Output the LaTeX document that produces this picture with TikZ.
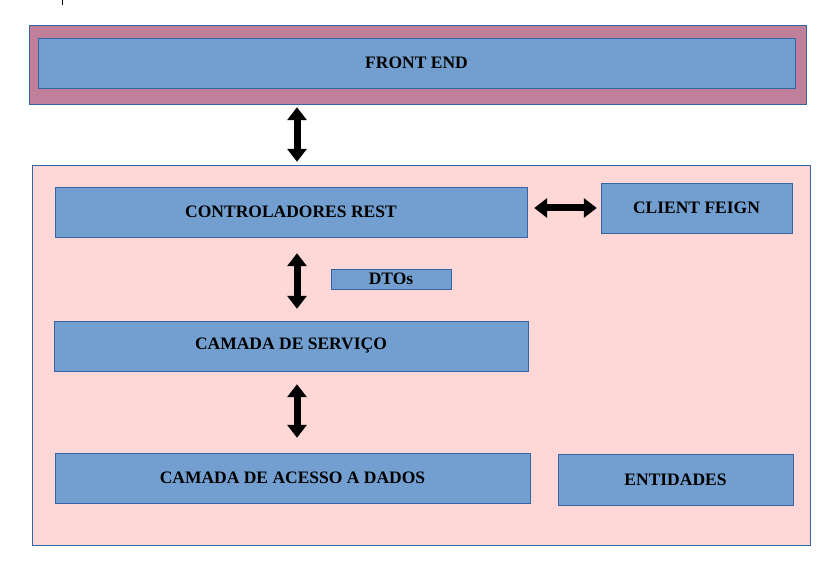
\documentclass[tikz,border=0pt]{standalone}
\usepackage{fontspec}
\setmainfont{Liberation Serif}
\usetikzlibrary{arrows.meta}

\definecolor{boxblue}{HTML}{729FCF}
\definecolor{edgeblue}{HTML}{3465A4}
\definecolor{layerpink}{HTML}{FFD7D7}
\definecolor{frontmauve}{HTML}{C0809C}

\tikzset{
  layer/.style={draw=edgeblue, fill=boxblue, inner sep=0pt,
    font=\fontsize{17.5}{20}\selectfont\bfseries},
  twoway/.style={line width=7pt,
    {Triangle[width=19pt,length=13pt]}-{Triangle[width=19pt,length=13pt]}}
}

\begin{document}
\begin{tikzpicture}[x=1pt,y=-1pt]
            \useasboundingbox (0,0) rectangle (836,572);
            \draw [black,line width=0.6pt] (62,0) -- (62,5);
            \node [draw=edgeblue,fill=frontmauve,minimum width=777pt,minimum height=79pt] (frontouter) at (417.5,64.5) {};
            \node [layer,minimum width=757pt,minimum height=50pt] (front) at (416.5,63) {FRONT END};
            \node [draw=edgeblue,fill=layerpink,minimum width=778pt,minimum height=380pt] (backend) at (421,355) {};
            \node [layer,minimum width=472pt,minimum height=50pt] (ctrl) at (291,212) {CONTROLADORES REST};
            \node [layer,minimum width=191pt,minimum height=50pt] (feign) at (696.5,208) {CLIENT FEIGN};
            \node [layer,minimum width=120pt,minimum height=20pt] (dtos) at (391,279) {DTOs};
            \node [layer,minimum width=474pt,minimum height=50pt] (serv) at (291,346) {CAMADA DE SERVIÇO};
            \node [layer,minimum width=475pt,minimum height=50pt] (dados) at (292.5,478) {CAMADA DE ACESSO A DADOS};
            \node [layer,minimum width=235pt,minimum height=51pt] (ent) at (675.5,479.5) {ENTIDADES};
            \draw [twoway] ([xshift=-120.5pt,yshift=-3pt]frontouter.south) -- ([xshift=-124pt,yshift=3pt]backend.north);
            \draw [twoway] ([xshift=6pt,yshift=-16pt]ctrl.south) -- ([xshift=6pt,yshift=12pt]serv.north);
            \draw [twoway] ([xshift=6pt,yshift=-13pt]serv.south) -- ([xshift=4.5pt,yshift=15pt]dados.north);
            \draw [twoway] ([xshift=7pt,yshift=4pt]ctrl.east) -- ([xshift=-4pt]feign.west);
        \end{tikzpicture}
\end{document}
